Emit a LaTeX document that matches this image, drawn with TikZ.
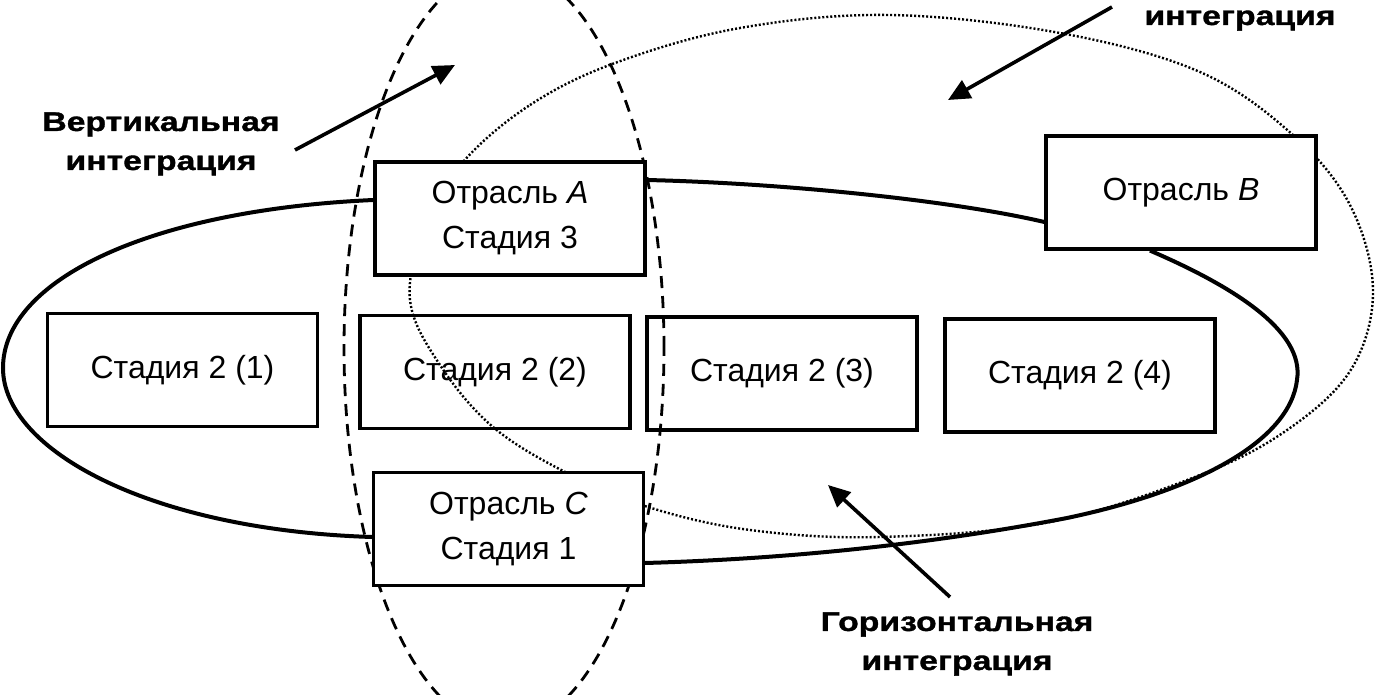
\documentclass[tikz,border=0pt]{standalone}
\usepackage{fontspec}
\setmainfont{Liberation Sans}
\newfontfamily\lblfont[FakeStretch=1.25,FakeBold=1.2]{Liberation Sans}
\usetikzlibrary{arrows.meta,calc}
\pgfdeclarelayer{background}
\pgfsetlayers{background,main}
\begin{document}
\begin{tikzpicture}[x=0.5pt,y=-0.5pt,
  box/.style={draw,line width=1.6pt,minimum width=135pt,minimum height=56.5pt,inner sep=0pt,align=center,font=\fontsize{16}{22.5}\selectfont},
  wbox/.style={box,fill=white},
  lbl/.style={align=center,inner sep=0pt,font=\lblfont\bfseries\fontsize{13.5}{19.5}\selectfont},
  hline/.style={line width=2pt},
  vline/.style={line width=1.4pt,dash pattern=on 6pt off 4pt},
  cline/.style={line width=1.2pt,dash pattern=on 1pt off 1pt},
  pointer/.style={line width=1.8pt,-{Triangle[length=11pt,width=10pt]}}]
\useasboundingbox (0,0) rectangle (1377,695);
\clip (0,0) rectangle (1377,695);

% boxes
\node[wbox] (A) at (510,218.5) {Отрасль \textit{A}\\Стадия 3};
\node[wbox] (B) at (1181,192.5) {Отрасль \textit{B}};
\node[box] (S1) at (182.5,370) {Стадия 2 (1)};
\node[box] (S2) at (495,372) {Стадия 2 (2)};
\node[box] (S3) at (782,373.5) {Стадия 2 (3)};
\node[box] (S4) at (1080,375.5) {Стадия 2 (4)};
\node[wbox] (C) at (508.5,529) {Отрасль \textit{C}\\Стадия 1};

\begin{pgfonlayer}{background}
% conglomerate integration (dotted)
\draw[cline] plot[smooth cycle, tension=0.6] coordinates {
 (463,162) (530,105) (615,63) (740,28) (890,15) (1060,33) (1200,72)
 (1293,135) (1350,205) (1373,290) (1352,368) (1290,428) (1200,475)
 (1050,522) (880,537) (750,530) (648,507) (567,473) (493,427)
 (440,365) (410,300) (425,225)};
% vertical integration (dashed)
\draw[vline] (504,348) ellipse [x radius=80pt, y radius=190pt];
\end{pgfonlayer}

% horizontal integration (solid)
\draw[hline] ([yshift=9.25pt]A.west) .. controls (150,210) and (3,280) .. (3,368)
  .. controls (3,450) and (150,530) .. ([yshift=-4pt]C.west);
\draw[hline] ([yshift=19.25pt]A.east) .. controls (780,183) and (950,200) .. ([yshift=-14.75pt]B.west);
\draw[hline] ([xshift=-15.5pt]B.south) .. controls (1230,285) and (1305,330) .. (1297,380)
  .. controls (1290,440) and (1200,490) .. (1067,518)
  .. controls (900,550) and (750,560) .. ([yshift=-17pt]C.east);

% labels
\node[lbl,anchor=north] (lv) at (161,112) {Вертикальная\\интеграция};
\node[lbl,anchor=north] (lh) at (957,612) {Горизонтальная\\интеграция};
\node[lbl,anchor=base] (lk) at (1240,25) {интеграция};

% pointers
\coordinate (vt) at (295,150); \coordinate (vh) at (455,65);
\coordinate (kt) at (1112,7);  \coordinate (kh) at (948,100);
\coordinate (gt) at (950,597); \coordinate (gh) at (828,485);
\draw[pointer] (vt) -- (vh);
\draw[pointer] (kt) -- (kh);
\draw[pointer] (gt) -- (gh);
\end{tikzpicture}
\end{document}
